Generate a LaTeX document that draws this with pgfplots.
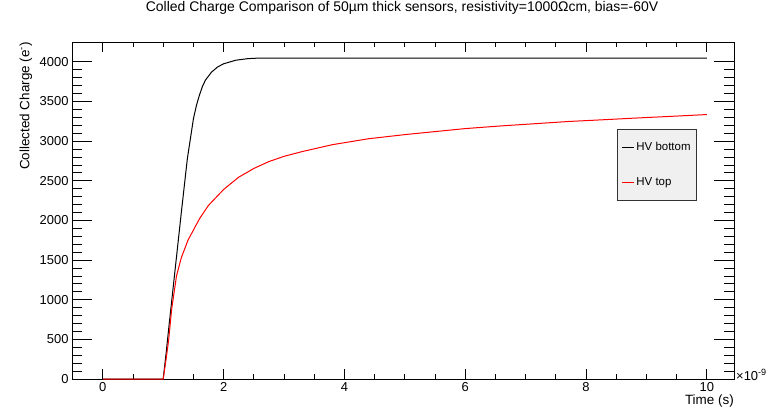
\documentclass[border=0pt]{standalone}
\usepackage{fontspec}
\setmainfont{Liberation Sans}
\usepackage{pgfplots}
\pgfplotsset{compat=1.18}
\begin{document}
\begin{tikzpicture}
\begin{axis}[
  at={(0,0)}, anchor=south west,
  scale only axis, width=662bp, height=337bp,
  xmin=-0.51, xmax=10.45, ymin=0, ymax=4250,
  xtick={0,2,4,6,8,10}, ytick={0,500,...,4000},
  minor x tick num=3, minor y tick num=4,
  tick align=inside,
  axis line style={line width=0.8bp},
  every tick/.style={black, line width=0.7bp},
  xtick style={/pgfplots/major tick length=10bp,/pgfplots/minor tick length=5bp},
  ytick style={/pgfplots/major tick length=20bp,/pgfplots/minor tick length=10bp},
  /pgf/number format/assume math mode=true,
  /pgf/number format/1000 sep={},
  tick label style={font=\fontsize{13}{14}\selectfont},
  title={Colled Charge Comparison of 50µm thick sensors, resistivity=1000Ωcm, bias=-60V},
  title style={font=\fontsize{14}{16}\selectfont, at={(axis description cs:0.4985,1.083)}, anchor=center, inner sep=0pt},
  ylabel={Collected Charge (e\textsuperscript{-})},
  ylabel style={font=\fontsize{13.5}{15}\selectfont, at={(axis description cs:-0.0695,1.0)}, anchor=east, inner sep=0pt},
  xlabel={Time (s)},
  xlabel style={font=\fontsize{13.5}{15}\selectfont, at={(axis description cs:1.0,-0.047)}, anchor=north east, inner sep=0pt},
  legend style={at={(axis description cs:0.8235,0.742)}, anchor=north west, fill=black!6, draw=black!80, line width=0.6bp,
    font=\fontsize{11.5}{13}\selectfont, inner xsep=4bp, inner ysep=11bp, row sep=22bp, cells={anchor=west}},
  legend image code/.code={\draw[#1] (0bp,0bp) -- (12bp,0bp);},
  clip mode=individual,
]
\addplot[black, line width=1bp] coordinates {
(0,0) (1.0,0) (1.05,340) (1.1,700) (1.2,1400) (1.3,2100) (1.4,2780) (1.5,3280) (1.55,3450)
(1.6,3580) (1.65,3690) (1.7,3770) (1.8,3870) (1.9,3935) (2.0,3975) (2.2,4020) (2.4,4040) (2.6,4048) (10,4048)
};
\addlegendentry{HV bottom}
\addplot[red, line width=1bp] coordinates {
(0,0) (1.0,0) (1.05,260) (1.09,490) (1.14,880) (1.22,1300) (1.3,1530) (1.41,1750) (1.6,2020) (1.75,2190)
(2.0,2390) (2.25,2545) (2.5,2655) (2.75,2742) (3.0,2808) (3.3,2868) (3.8,2955) (4.4,3030) (5.0,3082)
(5.5,3120) (6.0,3158) (6.6,3192) (7.2,3222) (7.7,3247) (8.3,3270) (8.8,3290) (9.4,3312) (10,3335)
};
\addlegendentry{HV top}
\node[anchor=west, inner sep=0pt, font=\fontsize{13}{14}\selectfont] at (axis description cs:1.003,0.012) {×10\textsuperscript{-9}};
\end{axis}
\draw[draw=none] (-72bp,-30bp) rectangle (709bp,379bp);
\end{tikzpicture}
\end{document}
